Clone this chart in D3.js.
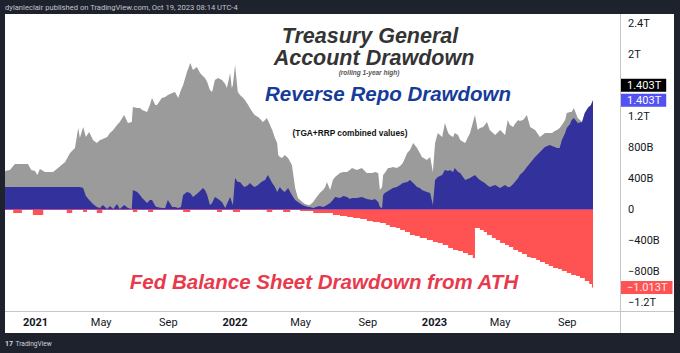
<!DOCTYPE html>
<html>
<head>
<meta charset="utf-8">
<script src="https://cdn.jsdelivr.net/npm/d3@7"></script>
<style>
  body { margin: 0; background: #1e222d; }
  svg { display: block; }
</style>
</head>
<body>
<div id="chart"></div>
<script>
// Samples (values in billions of USD)
const dates = [
  "2020-11-07","2020-11-16","2020-11-25","2020-12-08","2020-12-19","2020-12-25","2021-01-01","2021-01-05",
  "2021-01-10","2021-01-19","2021-02-03","2021-02-12","2021-02-25","2021-03-06","2021-03-15","2021-03-21",
  "2021-03-24","2021-03-30","2021-04-04","2021-04-10","2021-04-17","2021-04-24","2021-04-30","2021-05-05",
  "2021-05-13","2021-05-18","2021-05-24","2021-05-31","2021-06-05","2021-06-13","2021-06-20","2021-06-27",
  "2021-06-29","2021-07-07","2021-07-12","2021-07-16","2021-07-25","2021-07-30","2021-08-03","2021-08-09",
  "2021-08-12","2021-08-21","2021-08-27","2021-09-01","2021-09-09","2021-09-14","2021-09-20","2021-09-25",
  "2021-09-29","2021-10-06","2021-10-12","2021-10-17","2021-10-24","2021-10-30","2021-11-04","2021-11-08",
  "2021-11-12","2021-11-17","2021-11-21","2021-11-26","2021-12-02","2021-12-09","2021-12-15","2021-12-18",
  "2021-12-24","2021-12-27","2021-12-29","2022-01-02","2022-01-07","2022-01-11","2022-01-17","2022-01-20",
  "2022-01-26","2022-01-29","2022-02-04","2022-02-07","2022-02-13","2022-02-17","2022-02-22","2022-02-26",
  "2022-03-01","2022-03-03","2022-03-07","2022-03-11","2022-03-16","2022-03-20","2022-03-22","2022-03-25",
  "2022-03-29","2022-04-03","2022-04-09","2022-04-16","2022-04-22","2022-04-27","2022-05-05","2022-05-10",
  "2022-05-16","2022-05-19","2022-05-25","2022-05-30","2022-06-06","2022-06-12","2022-06-16","2022-06-19",
  "2022-06-25","2022-06-30","2022-07-04","2022-07-13","2022-07-19","2022-07-26","2022-07-31","2022-08-04",
  "2022-08-13","2022-08-22","2022-08-31","2022-09-10","2022-09-15","2022-09-21","2022-09-24","2022-09-28",
  "2022-09-30","2022-10-03","2022-10-09","2022-10-12","2022-10-18","2022-10-25","2022-10-31","2022-11-05",
  "2022-11-13","2022-11-18","2022-11-24","2022-12-01","2022-12-06","2022-12-10","2022-12-19","2022-12-25",
  "2022-12-30","2023-01-03","2023-01-08","2023-01-16","2023-01-21","2023-01-27","2023-01-30","2023-02-05",
  "2023-02-08","2023-02-14","2023-02-18","2023-02-27","2023-03-08","2023-03-17","2023-03-22","2023-03-26",
  "2023-04-01","2023-04-04","2023-04-08","2023-04-13","2023-04-23","2023-05-02","2023-05-11","2023-05-16",
  "2023-05-20","2023-05-26","2023-05-29","2023-06-04","2023-06-07","2023-06-13","2023-06-16","2023-06-20",
  "2023-06-26","2023-07-05","2023-07-14","2023-07-23","2023-08-01","2023-08-05","2023-08-10","2023-08-14",
  "2023-08-19","2023-08-23","2023-08-29","2023-09-01","2023-09-07","2023-09-10","2023-09-14","2023-09-21",
  "2023-09-29","2023-10-04","2023-10-10","2023-10-15","2023-10-19"
];

// TGA + RRP combined drawdown (gray)
const combinedDrawdown = [
  490,503,580,580,580,503,490,439, 516,477,477,529,606,722,787,1045,
  916,1058,929,993,890,851,890,903, 929,980,1019,1084,1122,1213,1109,1122,
  1316,1303,1303,1277,1251,1342,1432,1342, 1342,1432,1445,1471,1496,1509,1432,1535,
  1600,1767,1883,1793,1832,1754,1716,1690, 1638,1535,1509,1664,1690,1664,1613,1561,
  1754,1561,1600,1858,1509,1471,1432,1406, 1342,1303,1238,1213,1187,1161,1122,1148,
  1174,1148,1084,1019,916,851,697,671, 658,697,658,568,271,142,90,65,
  52,52,90,142,206,245,284,348, 245,374,413,464,477,477,503,529,
  503,529,464,464,477,464,245,284, 439,464,529,529,542,529,555,593,
  722,761,851,787,722,671,632,671, 477,851,980,929,1109,980,955,929,
  980,955,890,851,980,1213,1019,1045, 1058,1084,1122,1019,955,1019,955,1148,
  1084,1058,1097,1148,1135,1148,1174,1213, 1058,1019,929,980,980,980,1006,1019,
  1045,1084,1148,1238,1251,1251,1303,1174, 1122,1238,1316,1340,1403
];

// Reverse repo drawdown (blue)
const rrpDrawdown = [
  284,284,284,284,284,284,284,284, 284,284,284,284,284,284,284,284,
  284,271,168,116,65,26,13,52, 0,39,0,65,0,52,13,0,
  245,219,181,142,77,116,116,39, 26,13,13,116,26,26,13,26,
  181,219,206,155,194,232,271,245, 181,52,77,155,129,90,13,65,
  155,90,52,400,348,348,297,284, 310,335,297,284,310,335,361,374,
  413,439,387,335,284,219,245,284, 245,219,271,181,116,90,52,39,
  26,26,13,26,39,26,39,52, 77,116,155,142,168,155,129,142,
  142,155,129,116,129,90,26,13, 181,206,232,245,271,284,310,335,
  348,374,335,284,271,245,219,206, 52,374,413,439,503,490,503,477,
  529,477,464,374,400,439,400,374, 348,335,310,284,310,271,310,284,
  284,323,348,400,439,477,503,542, 593,671,735,800,826,813,800,787,
  787,890,980,1045,1097,1148,1174,1109, 1122,1238,1303,1340,1403
];

// Fed balance sheet drawdown from ATH (red, weekly steps)
const fedDates = [
  "2020-11-07","2020-11-22","2020-12-08","2020-12-28","2021-01-16","2021-02-28","2021-03-10","2021-03-30",
  "2021-04-06","2021-04-24","2021-05-04","2021-06-29","2021-07-07","2021-07-27","2021-08-05","2021-09-29",
  "2021-10-12","2021-11-30","2021-12-09","2021-12-29","2022-01-11","2022-03-01","2022-03-11","2022-03-31",
  "2022-04-13","2022-05-01","2022-05-25","2022-06-30","2022-07-13","2022-07-26","2022-08-06","2022-08-19",
  "2022-08-31","2022-09-11","2022-09-24","2022-10-05","2022-10-12","2022-10-23","2022-10-31","2022-11-09",
  "2022-11-18","2022-11-27","2022-12-06","2022-12-19","2022-12-30","2023-01-08","2023-01-17","2023-01-27",
  "2023-02-05","2023-02-14","2023-02-23","2023-03-04","2023-03-13","2023-03-17","2023-03-26","2023-04-02",
  "2023-04-08","2023-04-17","2023-04-24","2023-05-02","2023-05-11","2023-05-18","2023-05-26","2023-06-04",
  "2023-06-11","2023-06-20","2023-06-27","2023-07-07","2023-07-14","2023-07-23","2023-07-30","2023-08-07",
  "2023-08-16","2023-08-23","2023-09-01","2023-09-09","2023-09-18","2023-09-25","2023-10-04","2023-10-12",
  "2023-10-17","2023-10-19"
];
const fedDrawdown = [
  0,-52,0,-77,0,-52,0,-39, 0,-52,0,-39,0,-39,0,-39,
  0,-39,0,-39,0,-39,0,-39, 0,-26,-52,-77,-90,-103,-116,-129,
  -155,-168,-181,-206,-232,-245,-271,-297, -335,-348,-374,-400,-426,-439,-464,-503,
  -529,-542,-568,-593,-632,-245,-271,-297, -335,-374,-400,-439,-464,-490,-529,-555,
  -580,-619,-632,-658,-684,-710,-735,-761, -774,-800,-826,-851,-864,-890,-929,-968,
  -1013,-1013
];

const yTickValues = [2400, 2000, 1200, 800, 400, 0, -400, -800, -1200];
const yTickLabels = ["2.4T", "2T", "1.2T", "800B", "400B", "0", "\u2212400B", "\u2212800B", "\u22121.2T"];
const xTickDates = ["2021-01-01","2021-05-01","2021-09-01","2022-01-01","2022-05-01","2022-09-01","2023-01-01","2023-05-01","2023-09-01"];
const xTickLabels = ["2021", "May", "Sep", "2022", "May", "Sep", "2023", "May", "Sep"];

function DrawdownChart(id, {
  width = 680,
  height = 353,
  plotLeft = 5,
  plotRight = 620,
  plotTop = 14,
  plotBottom = 311,
  panelRight = 674,
  panelBottom = 333,
  font = "Roboto, 'Liberation Sans', sans-serif",
  titleFont = "'Liberation Sans', Arial, sans-serif",
} = {}) {
  const parse = d3.utcParse("%Y-%m-%d");
  const X = dates.map(parse);
  const FX = fedDates.map(parse);

  // Scales
  const xScale = d3.scaleUtc([parse("2020-11-07"), parse("2023-10-19")], [plotLeft, 593]);
  const yScale = d3.scaleLinear([-1316, 2516], [plotBottom, plotTop]);

  const svg = d3.select(id)
    .append("svg")
    .attr("width", width)
    .attr("height", height)
    .attr("viewBox", [0, 0, width, height]);

  // frame
  svg.append("rect").attr("width", width).attr("height", height).attr("fill", "#1e222d");
  svg.append("text")
    .attr("x", 5).attr("y", 10)
    .attr("fill", "#c3c6ce")
    .attr("font-family", font)
    .attr("font-size", 7.6)
    .text("dylanleclair published on TradingView.com, Oct 19, 2023 08:14 UTC-4");
  svg.append("rect")
    .attr("x", plotLeft).attr("y", plotTop)
    .attr("width", panelRight - plotLeft).attr("height", panelBottom - plotTop)
    .attr("fill", "#ffffff");

  svg.append("clipPath").attr("id", "plot-clip")
    .append("rect")
    .attr("x", plotLeft).attr("y", plotTop)
    .attr("width", plotRight - plotLeft).attr("height", plotBottom - plotTop);

  const plot = svg.append("g").attr("clip-path", "url(#plot-clip)");

  const area = d3.area()
    .x((d, i) => xScale(X[i]))
    .y0(yScale(0))
    .y1((d) => yScale(d));

  plot.append("path").attr("fill", "#9b9b9b").attr("d", area(combinedDrawdown));
  plot.append("path").attr("fill", "#33319b").attr("d", area(rrpDrawdown));

  const fedArea = d3.area()
    .curve(d3.curveStepAfter)
    .x((d, i) => xScale(FX[i]))
    .y0(yScale(0))
    .y1((d) => yScale(d));
  plot.append("path").attr("fill", "#ff5252").attr("d", fedArea(fedDrawdown));

  // zero line
  plot.append("line")
    .attr("x1", plotLeft).attr("x2", xScale(FX[FX.length - 1]))
    .attr("y1", yScale(0) + 0.5).attr("y2", yScale(0) + 0.5)
    .attr("stroke", "#b04a9a").attr("stroke-width", 1);

  // titles
  const titles = svg.append("g")
    .attr("font-family", titleFont)
    .attr("font-weight", "bold")
    .attr("font-style", "italic")
    .attr("text-anchor", "middle");
  titles.append("text").attr("x", 370).attr("y", 43).attr("font-size", 21.5).attr("fill", "#343434").text("Treasury General");
  titles.append("text").attr("x", 374).attr("y", 64.5).attr("font-size", 21.5).attr("fill", "#343434").text("Account Drawdown");
  titles.append("text").attr("x", 369).attr("y", 75).attr("font-size", 6.5).attr("fill", "#555").text("(rolling 1-year high)");
  titles.append("text").attr("x", 388).attr("y", 101).attr("font-size", 20.5).attr("fill", "#163c99").text("Reverse Repo Drawdown");
  titles.append("text").attr("x", 350).attr("y", 136).attr("font-size", 8.3).attr("font-style", "normal").attr("fill", "#111").text("(TGA+RRP combined values)");
  titles.append("text").attr("x", 324).attr("y", 289).attr("font-size", 20.5).attr("fill", "#e83a4c").text("Fed Balance Sheet Drawdown from ATH");

  // separators
  svg.append("line")
    .attr("x1", plotRight + 0.5).attr("x2", plotRight + 0.5)
    .attr("y1", plotTop).attr("y2", panelBottom)
    .attr("stroke", "#c4c6cc");
  svg.append("line")
    .attr("x1", plotLeft).attr("x2", panelRight)
    .attr("y1", plotBottom + 0.5).attr("y2", plotBottom + 0.5)
    .attr("stroke", "#c4c6cc");

  // axes
  const xAxis = d3.axisBottom(xScale)
    .tickValues(xTickDates.map(parse))
    .tickFormat((d, i) => xTickLabels[i])
    .tickSize(0)
    .tickPadding(7);
  svg.append("g")
    .attr("transform", `translate(0,${plotBottom})`)
    .call(xAxis)
    .call((g) => g.select(".domain").remove())
    .call((g) => g.selectAll("text")
      .attr("font-family", font)
      .attr("font-size", 11)
      .attr("fill", "#131722")
      .attr("font-weight", (d, i) => /^\d{4}$/.test(xTickLabels[i]) ? "bold" : "normal"));

  const yAxis = d3.axisRight(yScale)
    .tickValues(yTickValues)
    .tickFormat((d, i) => yTickLabels[i])
    .tickSize(0)
    .tickPadding(7);
  svg.append("g")
    .attr("transform", `translate(${plotRight + 1},0)`)
    .call(yAxis)
    .call((g) => g.select(".domain").remove())
    .call((g) => g.selectAll("text")
      .attr("font-family", font)
      .attr("font-size", 11)
      .attr("fill", "#131722"));

  // last value labels on the price scale
  const lastLabels = [
    { value: combinedDrawdown[combinedDrawdown.length - 1], shift: -15, bg: "#000000", fg: "#ffffff" },
    { value: rrpDrawdown[rrpDrawdown.length - 1], shift: 0, bg: "#5252f2", fg: "#ffffff" },
    { value: fedDrawdown[fedDrawdown.length - 1], shift: 0, bg: "#ff5252", fg: "#ffe9e9" },
  ];
  const fmt = (v) => (v < 0 ? "\u2212" : "") + (Math.abs(v) / 1000).toFixed(3) + "T";
  lastLabels.forEach((l) => {
    const cy = yScale(l.value) + l.shift;
    const g = svg.append("g");
    const rect = g.append("rect")
      .attr("x", plotRight + 1).attr("y", cy - 6.5)
      .attr("height", 13)
      .attr("fill", l.bg);
    const t = g.append("text")
      .attr("x", plotRight + 7).attr("y", cy)
      .attr("dy", "0.35em")
      .attr("font-family", font)
      .attr("font-size", 11)
      .attr("fill", l.fg)
      .text(fmt(l.value));
    rect.attr("width", t.node().getComputedTextLength() + 11);
  });

  // footer
  svg.append("text")
    .attr("x", 5).attr("y", 345.5)
    .attr("fill", "#d1d4dc")
    .attr("font-family", font)
    .attr("font-weight", "bold")
    .attr("font-size", 7)
    .text("17");
  svg.append("text")
    .attr("x", 15.5).attr("y", 345.5)
    .attr("fill", "#d1d4dc")
    .attr("font-family", font)
    .attr("font-size", 6.6)
    .text("TradingView");

  return svg.node();
}

DrawdownChart("#chart");
</script>
</body>
</html>
